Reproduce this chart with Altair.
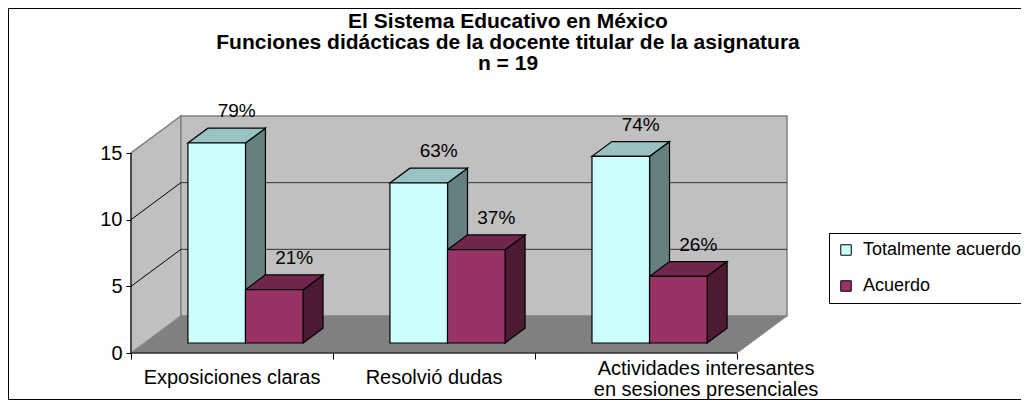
import altair as alt
import pandas as pd

# ---- data ----
categories = ["Exposiciones claras", "Resolvió dudas", "Actividades interesantes\nen sesiones presenciales"]
series = ["Totalmente acuerdo", "Acuerdo"]
totalmente = [15, 12, 14]
acuerdo = [4, 7, 5]
pct_totalmente = ["79%", "63%", "74%"]
pct_acuerdo = ["21%", "37%", "26%"]
y_ticks = [0, 5, 10, 15]
title_lines = ["El Sistema Educativo en México",
               "Funciones didácticas de la docente titular de la asignatura",
               "n = 19"]

# ---- style / pseudo-3D geometry parameters ----
FONT = "Liberation Sans"
YMAX = 15
DX = 0.247     # depth shift in category units
DY = 2.775     # depth shift in value units
F0, F1 = 0.27, 0.67   # bar depth position (fraction of depth)
BW = 0.285     # bar width (category units)
START = 0.215  # first bar start within category
colors = {
    "Totalmente acuerdo": {"front": "#CCFFFF", "top": "#99C2C2", "side": "#668080"},
    "Acuerdo": {"front": "#993366", "top": "#73264D", "side": "#4D1A33"},
}

# ---- build geometry tables from the data ----
fronts, faces, labels = [], [], []
vals = {"Totalmente acuerdo": totalmente, "Acuerdo": acuerdo}
pcts = {"Totalmente acuerdo": pct_totalmente, "Acuerdo": pct_acuerdo}
d = (F1 - F0) * DX
dd = (F1 - F0) * DY
for si, s in enumerate(series):
    for ci, c in enumerate(categories):
        v = vals[s][ci]
        l = ci + START + si * BW + F0 * DX
        r = l + BW
        b = F0 * DY
        t = v + F0 * DY
        fronts.append({"serie": s, "x": l, "x2": r, "y": b, "y2": t})
        fid = f"{si}-{ci}"
        sc = colors[s]["side"]
        faces.append({"serie": s, "face": fid + "-side", "x": r, "lo": b, "hi": t, "col": sc})
        faces.append({"serie": s, "face": fid + "-side", "x": r + d, "lo": b + dd, "hi": t + dd, "col": sc})
        tc = colors[s]["top"]
        faces.append({"serie": s, "face": fid + "-top", "x": l, "lo": t, "hi": t, "col": tc})
        faces.append({"serie": s, "face": fid + "-top", "x": l + d, "lo": t, "hi": t + dd, "col": tc})
        faces.append({"serie": s, "face": fid + "-top", "x": r, "lo": t, "hi": t + dd, "col": tc})
        faces.append({"serie": s, "face": fid + "-top", "x": r + d, "lo": t + dd, "hi": t + dd, "col": tc})
        labels.append({"x": (l + r) / 2 + d, "y": t + dd, "text": pcts[s][ci]})

fronts = pd.DataFrame(fronts)
faces = pd.DataFrame(faces)
labels = pd.DataFrame(labels)

n = len(categories)
xs = alt.Scale(domain=[0, n + DX], nice=False, zero=False)
ys = alt.Scale(domain=[0, YMAX + DY], nice=False, zero=False)

x_axis = alt.Axis(values=list(range(n + 1)), labels=False, domain=False, grid=False, ticks=True,
                  tickColor="black", tickSize=6, title=None, orient="bottom", zindex=2)
y_axis = alt.Axis(values=y_ticks, domain=False, grid=False, tickColor="black", tickSize=5,
                  labelFontSize=20, labelFont=FONT, labelColor="black", labelPadding=4,
                  title=None, orient="left", zindex=2)

def X(f="x"):
    return alt.X(f"{f}:Q", scale=xs, axis=x_axis)

def Y(f="y"):
    return alt.Y(f"{f}:Q", scale=ys, axis=y_axis, stack=None)

# walls
side_wall = pd.DataFrame({"x": [0, DX], "lo": [0, DY], "hi": [YMAX, YMAX + DY]})
floor = pd.DataFrame({"x": [0, DX, n, n + DX], "lo": [0, 0, 0, DY], "hi": [0, DY, DY, DY]})
back_wall = pd.DataFrame({"x": [DX], "x2": [n + DX], "y": [DY], "y2": [YMAX + DY]})

side_wall_l = alt.Chart(side_wall).mark_area(orient="vertical", color="#C0C0C0", stroke="#808080",
                                             strokeWidth=1.5).encode(x=X(), y=Y("lo"), y2="hi")
floor_l = alt.Chart(floor).mark_area(orient="vertical", color="#808080", stroke="#8C8C8C",
                                     strokeWidth=1).encode(x=X(), y=Y("lo"), y2="hi")
back_wall_l = alt.Chart(back_wall).mark_rect(color="#C0C0C0", stroke="#808080", strokeWidth=1.5).encode(
    x=X(), x2="x2", y=Y(), y2="y2")

grid_vals = [v for v in y_ticks if 0 < v < YMAX]
grid_back = pd.DataFrame({"x": [DX] * len(grid_vals), "x2": [n + DX] * len(grid_vals),
                          "y": [v + DY for v in grid_vals]})
grid_side = pd.DataFrame({"x": [0] * len(grid_vals), "x2": [DX] * len(grid_vals),
                          "y": grid_vals, "y2": [v + DY for v in grid_vals]})
grid_back_l = alt.Chart(grid_back).mark_rule(color="#333333", strokeWidth=1).encode(
    x=X(), x2="x2", y=Y())
grid_side_l = alt.Chart(grid_side).mark_rule(color="#000000", strokeWidth=1).encode(
    x=X(), x2="x2", y=Y(), y2="y2")

# axis lines
yaxis_df = pd.DataFrame({"x": [0], "y": [0], "y2": [YMAX]})
xaxis_df = pd.DataFrame({"x": [0], "x2": [n], "y": [0]})
yaxis_line = alt.Chart(yaxis_df).mark_rule(color="black", strokeWidth=1).encode(
    x=X(), y=Y(), y2="y2")
xaxis_line = alt.Chart(xaxis_df).mark_rule(color="black", strokeWidth=1).encode(
    x=X(), x2="x2", y=Y())

# bars: side/top faces per series, then all front faces
face_layers = []
for s in series:
    face_layers.append(
        alt.Chart(faces[faces.serie == s]).mark_area(orient="vertical", stroke="black", strokeWidth=1.2,
                                                     opacity=1, interpolate="linear").encode(
            x=X(), y=Y("lo"), y2="hi", detail="face:N", fill=alt.Fill("col:N", scale=None))
    )
front_l = alt.Chart(fronts).mark_rect(stroke="black", strokeWidth=1.2, opacity=1).encode(
    x=X(), x2="x2", y=Y(), y2="y2",
    color=alt.Color("serie:N", scale=alt.Scale(domain=series, range=[colors[s]["front"] for s in series]),
                    legend=alt.Legend(title=None, orient="none", legendX=698, legendY=117,
                                      symbolType="square", symbolSize=110, symbolStrokeColor="black",
                                      symbolStrokeWidth=1, symbolOpacity=1, labelFontSize=18,
                                      labelFont=FONT, labelColor="black", labelOffset=8,
                                      labelLimit=500, padding=8, rowPadding=18,
                                      strokeColor="black", fillColor="white")))

label_l = alt.Chart(labels).mark_text(fontSize=19, font=FONT, color="black", baseline="middle",
                                      dy=-17).encode(x=X(), y=Y(), text="text:N")

cat_df = pd.DataFrame({"x": [i + 0.5 for i in range(n)], "y": [0] * n, "text": categories})
cat_a = alt.Chart(cat_df.iloc[:2]).mark_text(fontSize=20, font=FONT, color="black", baseline="middle",
                                             dy=25).encode(x=X(), y=Y(), text="text:N")
cat_b = alt.Chart(cat_df.iloc[2:]).mark_text(fontSize=20, font=FONT, color="black", baseline="middle",
                                             dy=16, dx=70, lineHeight=21, lineBreak="\n").encode(
    x=X(), y=Y(), text="text:N")

title_df = pd.DataFrame({"t": ["\n".join(title_lines)]})
title_l = alt.Chart(title_df).mark_text(fontSize=21, font=FONT, fontWeight="bold", color="black",
                                        baseline="middle", align="center", lineBreak="\n",
                                        lineHeight=21).encode(
    x=alt.value(377), y=alt.value(-94), text="t:N")

frame = alt.Chart(pd.DataFrame({"a": [0]})).mark_rect(fill="white", stroke="black", strokeWidth=1).encode(
    x=alt.value(-122.5), x2=alt.value(920), y=alt.value(-107.5), y2=alt.value(283.5))

chart = alt.layer(
    frame, title_l,
    side_wall_l, floor_l, back_wall_l, grid_back_l, grid_side_l,
    *face_layers, front_l, yaxis_line, xaxis_line, label_l, cat_a, cat_b,
).properties(
    width=656, height=237,
    autosize=alt.AutoSizeParams(type="none"),
    padding={"left": 123, "top": 108, "right": 234, "bottom": 47},
).configure_view(stroke=None).configure(background="white")

chart.save("out.html", embed_options={"renderer": "svg", "actions": False})
